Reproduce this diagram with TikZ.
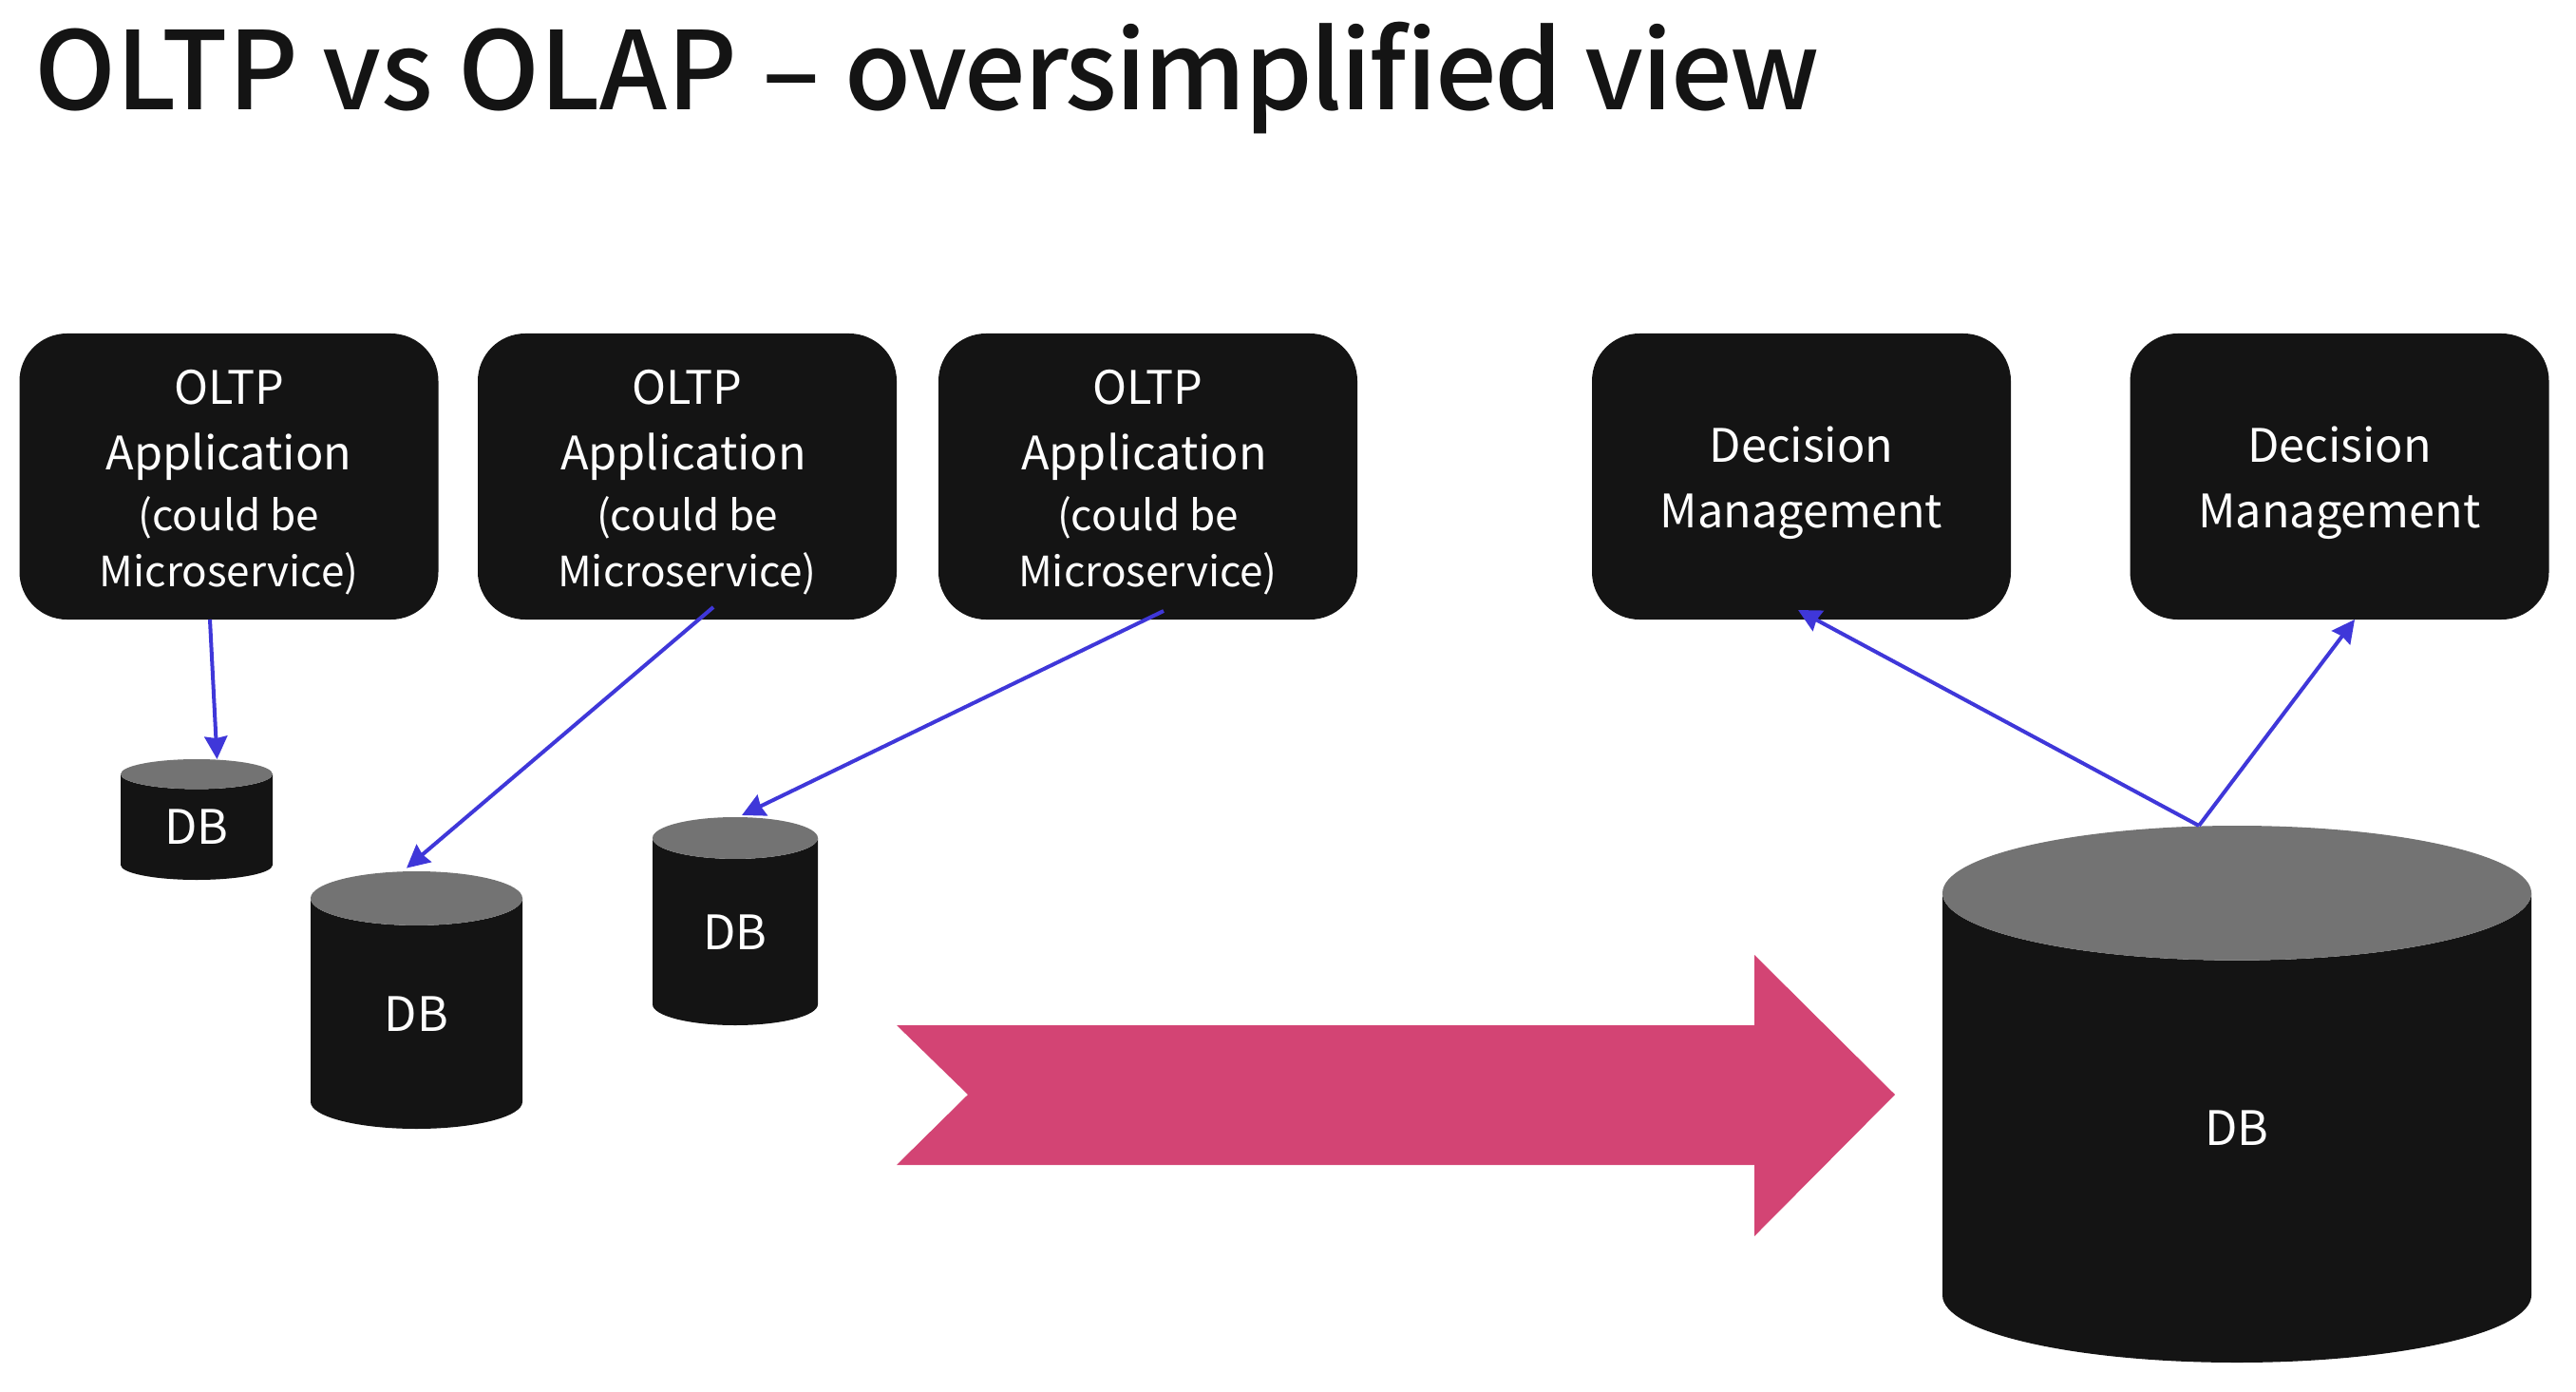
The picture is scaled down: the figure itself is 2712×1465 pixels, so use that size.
\documentclass[tikz,border=0pt]{standalone}
\usepackage{fontspec}
\setmainfont{Noto Sans CJK JP}
\newfontfamily\titlefont[UprightFont=* Medium]{Noto Sans CJK JP}
\usetikzlibrary{shapes.geometric,arrows.meta,positioning}

\definecolor{boxblack}{HTML}{141414}
\definecolor{topgrey}{HTML}{737373}
\definecolor{linkblue}{HTML}{3F37D9}
\definecolor{movepink}{HTML}{D34474}

\newcommand{\smallsize}{\fontsize{22}{22}\selectfont}
\newcommand{\oltptext}[1]{\rule{0pt}{24.5pt}OLTP\\[0pt]Application#1\\[-2.5pt]\smallsize (could be\\[-5pt]\smallsize Microservice)}
\newcommand{\decisiontext}{\rule{0pt}{25.5pt}Decision\\Management}

\begin{document}
\begin{tikzpicture}[x=0.5pt,y=-0.5pt,
  appbox/.style={rectangle,rounded corners=25pt,fill=boxblack,text=white,align=center,
    minimum width=220.5pt,minimum height=150.5pt,inner sep=0pt,outer sep=0pt,
    font=\fontsize{24.3}{34.5}\selectfont},
  dbcyl/.style={cylinder,shape border rotate=90,cylinder uses custom fill,anchor=top,
    cylinder body fill=boxblack,cylinder end fill=topgrey,text=white,inner sep=0pt,outer sep=0pt,
    font=\fontsize{25}{25}\selectfont},
  link/.style={draw=linkblue,line width=2pt,-{Stealth[length=12pt,width=12pt,inset=1pt]}},
  bigarrow/.style={fill=movepink}]

\useasboundingbox (0,0) rectangle (2712,1465);

\node[anchor=west,font=\titlefont\fontsize{57}{57}\selectfont,text=boxblack,inner sep=0pt] (title) at (36,82) {OLTP vs OLAP – {\addfontfeature{LetterSpace=-2}oversimplified view}};

\node[appbox] (appa) at (241,501.5) {\oltptext{}};
\node[appbox] (appb) at (723.5,501.5) {\oltptext{\kern4pt}};
\node[appbox] (appc) at (1208.5,501.5) {\oltptext{\kern4pt}};
\node[appbox] (deca) at (1896.5,501.5) {\decisiontext};
\node[appbox] (decb) at (2463,501.5) {\decisiontext};

\node[dbcyl,minimum width=80pt,minimum height=63.5pt,shape aspect=.4675] (dba) at (207,799) {DB};
\node[dbcyl,minimum width=111.5pt,minimum height=135.5pt,shape aspect=.846] (dbb) at (438.5,917) {DB};
\node[dbcyl,minimum width=87pt,minimum height=109.5pt,shape aspect=.653] (dbc) at (774,860) {DB};
\node[dbcyl,minimum width=310pt,minimum height=282.5pt,shape aspect=2.107] (dbd) at (2355,869) {DB};

\fill[bigarrow] (944,1079) -- (1847,1079) -- (1847,1005) -- (1995,1152) -- (1847,1301) -- (1847,1226) -- (944,1226) -- (1019,1152) -- cycle;

\draw[link] ([xshift=-10pt]appa.south) -- ([xshift=10.75pt]dba.top);
\draw[link] ([xshift=13.75pt,yshift=6.5pt]appb.south) -- ([xshift=-5.25pt,yshift=1.7pt]dbb.top);
\draw[link] ([xshift=8.25pt,yshift=4.5pt]appc.south) -- ([xshift=3.5pt,yshift=1pt]dbc.top);
\draw[link] ([xshift=-20pt]dbd.top) -- ([xshift=-1.75pt,yshift=5pt]deca.south);
\draw[link] ([xshift=-20pt]dbd.top) -- ([xshift=8pt]decb.south);

\end{tikzpicture}
\end{document}
